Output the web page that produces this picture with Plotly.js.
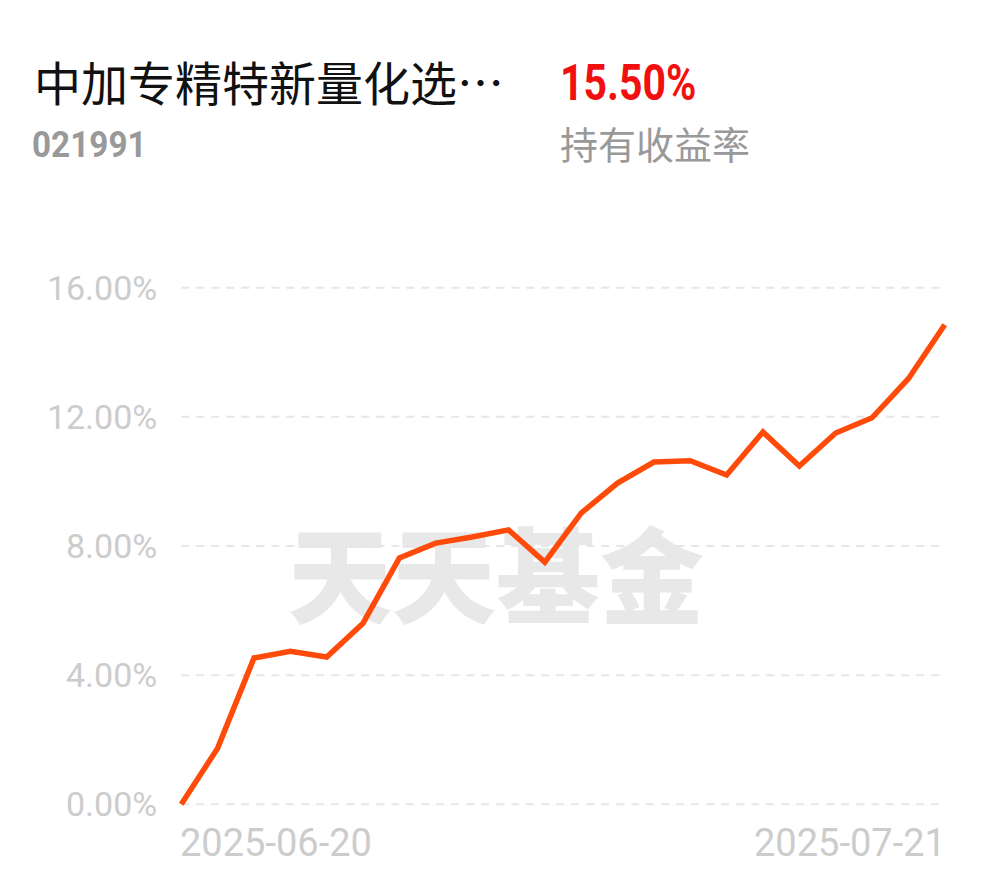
<!DOCTYPE html>
<html>
<head>
<meta charset="utf-8">
<script src="https://cdn.plot.ly/plotly-3.0.1.min.js"></script>
<style>
  html, body { margin: 0; padding: 0; background: #ffffff; }
  #chart { width: 990px; height: 878px; }
</style>
</head>
<body>
<div id="chart"></div>
<script>
// ---- data ----
const dates = [
  '2025-06-20', '2025-06-23', '2025-06-24', '2025-06-25', '2025-06-26', '2025-06-27',
  '2025-06-30', '2025-07-01', '2025-07-02', '2025-07-03', '2025-07-04',
  '2025-07-07', '2025-07-08', '2025-07-09', '2025-07-10', '2025-07-11',
  '2025-07-14', '2025-07-15', '2025-07-16', '2025-07-17', '2025-07-18', '2025-07-21'
];
const returnsPct = [
  0.00, 1.74, 4.53, 4.74, 4.56, 5.61,
  7.63, 8.09, 8.28, 8.50, 7.50,
  9.02, 9.95, 10.60, 10.64, 10.20,
  11.53, 10.48, 11.50, 11.97, 13.18, 14.85
];
const yTicks = [0, 4, 8, 12, 16];
const fundName = '中加专精特新量化选…';
const fundCode = '021991';
const holdReturn = '15.50%';
const holdReturnLabel = '持有收益率';
const watermark = '天天基金';

// ---- layout helpers ----
const W = 990, H = 878;
const M = { l: 174, r: 38, t: 278, b: 64 };
const PW = W - M.l - M.r, PH = H - M.t - M.b;
const px = x => (x - M.l) / PW;
const py = y => (H - M.b - y) / PH;

const gridShapes = yTicks.map(v => ({
  type: 'line', xref: 'x', yref: 'y', layer: 'below',
  x0: dates[0], x1: dates[dates.length - 1], y0: v, y1: v,
  line: { color: '#e6e6e6', width: 2, dash: '8px,7px' }
}));

const wmShape = {
  type: 'rect', xref: 'paper', yref: 'paper', layer: 'below',
  x0: px(287), x1: px(705), y0: py(635), y1: py(540),
  line: { width: 0 }, fillcolor: 'rgba(0,0,0,0)',
  label: {
    text: watermark, textposition: 'middle center',
    font: { family: 'Noto Sans CJK SC', size: 104, color: '#e8e8e8', weight: 900 }
  }
};

const trace = {
  type: 'scatter', mode: 'lines',
  x: dates, y: returnsPct,
  line: { color: '#ff4b0a', width: 5.5 },
  hoverinfo: 'skip'
};

const layout = {
  width: W, height: H,
  margin: M,
  paper_bgcolor: '#ffffff', plot_bgcolor: '#ffffff',
  showlegend: false,
  xaxis: {
    type: 'category', range: [-0.2, dates.length - 1 + 0.2],
    showgrid: false, zeroline: false, showline: false, showticklabels: false, ticks: ''
  },
  yaxis: {
    range: [-0.3, 16.3],
    tickvals: yTicks,
    ticktext: yTicks.map(v => v.toFixed(2) + '%'),
    showgrid: false, zeroline: false, showline: false,
    ticks: 'outside', ticklen: 9, tickcolor: 'rgba(0,0,0,0)',
    tickfont: { family: 'Roboto', size: 34, color: '#cccccc' }
  },
  shapes: gridShapes.concat([wmShape]),
  annotations: [
    { text: fundName, xref: 'paper', yref: 'paper', x: px(32), y: py(81),
      xanchor: 'left', yanchor: 'middle', showarrow: false,
      font: { family: 'Noto Sans CJK SC', size: 47, color: '#111111' } },
    { text: holdReturn, xref: 'paper', yref: 'paper', x: px(558), y: py(83),
      xanchor: 'left', yanchor: 'middle', showarrow: false,
      font: { family: 'Roboto', size: 50, color: '#f20f0f', weight: 'bold' } },
    { text: fundCode, xref: 'paper', yref: 'paper', x: px(30), y: py(144),
      xanchor: 'left', yanchor: 'middle', showarrow: false,
      font: { family: 'Roboto', size: 37, color: '#999999', weight: 'bold' } },
    { text: holdReturnLabel, xref: 'paper', yref: 'paper', x: px(558), y: py(143),
      xanchor: 'left', yanchor: 'middle', showarrow: false,
      font: { family: 'Noto Sans CJK SC', size: 38, color: '#999999' } },
    { text: dates[0], xref: 'x', yref: 'paper', x: dates[0], y: py(843),
      xanchor: 'left', yanchor: 'middle', showarrow: false, xshift: -3,
      font: { family: 'Roboto', size: 38, color: '#cccccc' } },
    { text: dates[dates.length - 1], xref: 'x', yref: 'paper', x: dates[dates.length - 1], y: py(843),
      xanchor: 'right', yanchor: 'middle', showarrow: false, xshift: 3,
      font: { family: 'Roboto', size: 38, color: '#cccccc' } }
  ]
};

Plotly.newPlot('chart', [trace], layout, { displayModeBar: false, staticPlot: true }).then(gd => {
  // condensed look for the numeric headline texts
  gd.querySelectorAll('.annotation-text').forEach(t => {
    const s = t.textContent;
    const k = s === holdReturn ? 0.82 : (s === fundCode ? 0.9 : null);
    if (k) {
      t.style.transformBox = 'fill-box';
      t.style.transformOrigin = 'left center';
      t.style.transform = 'scaleX(' + k + ')';
    }
  });
});
</script>
</body>
</html>
